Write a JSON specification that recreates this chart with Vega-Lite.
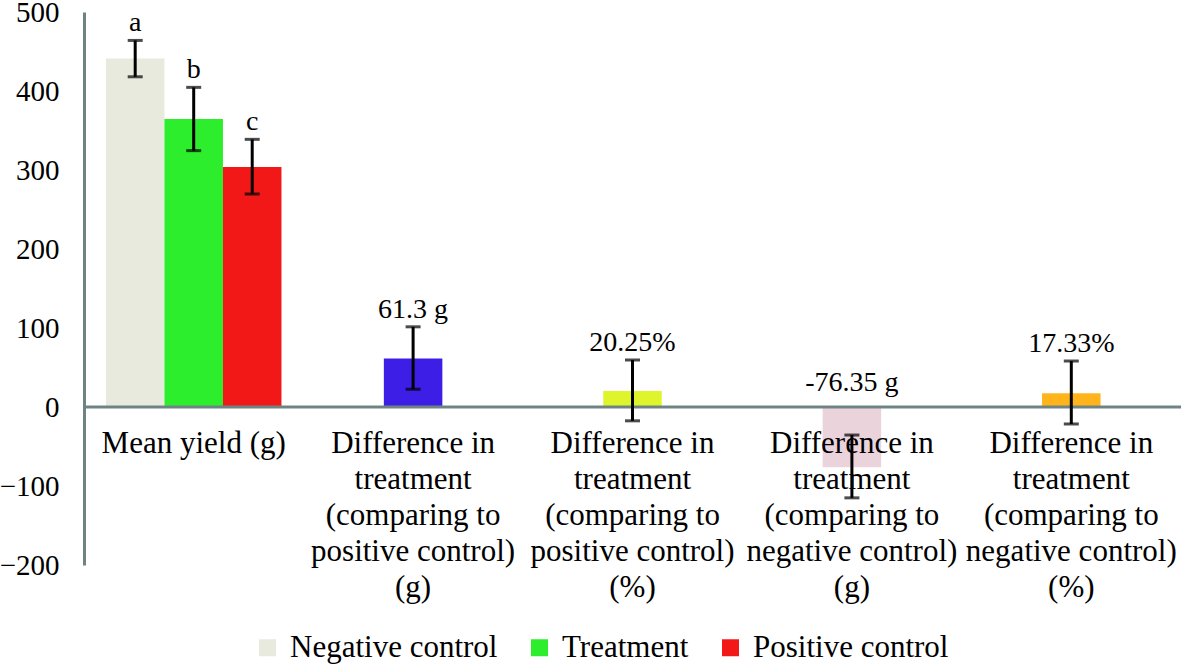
{
  "$schema": "https://vega.github.io/schema/vega-lite/v6.json",
  "width": 1097,
  "height": 553,
  "autosize": {"type": "none"},
  "padding": {"left": 84, "top": 12, "right": 0, "bottom": 99},
  "background": "white",
  "config": {
    "view": {"stroke": null},
    "font": "'Liberation Serif', 'Times New Roman', Times, serif",
    "text": {"font": "'Liberation Serif', 'Times New Roman', Times, serif", "color": "black"}
  },
  "datasets": {
    "bars": [
      {"group": "Mean yield (g)", "slot": 1, "series": "Negative control", "value": 441, "lo": 418, "hi": 464, "label": "a"},
      {"group": "Mean yield (g)", "slot": 2, "series": "Treatment", "value": 364.6, "lo": 324.5, "hi": 404.6, "label": "b"},
      {"group": "Mean yield (g)", "slot": 3, "series": "Positive control", "value": 303.8, "lo": 269.6, "hi": 338.8, "label": "c"},
      {"group": "diffPosG", "slot": 2, "series": "Diff pos g", "value": 61.3, "lo": 22.5, "hi": 101.5, "label": "61.3 g"},
      {"group": "diffPosPct", "slot": 2, "series": "Diff pos %", "value": 20.25, "lo": -17.5, "hi": 59.5, "label": "20.25%"},
      {"group": "diffNegG", "slot": 2, "series": "Diff neg g", "value": -76.35, "lo": -115, "hi": -35.5, "label": "-76.35 g"},
      {"group": "diffNegPct", "slot": 2, "series": "Diff neg %", "value": 17.33, "lo": -21.5, "hi": 58.2, "label": "17.33%"}
    ],
    "cats": [
      {"group": "Mean yield (g)", "text": "Mean yield (g)"},
      {"group": "diffPosG", "text": "Difference in|treatment|(comparing to|positive control)|(g)"},
      {"group": "diffPosPct", "text": "Difference in|treatment|(comparing to|positive control)|(%)"},
      {"group": "diffNegG", "text": "Difference in|treatment|(comparing to|negative control)|(g)"},
      {"group": "diffNegPct", "text": "Difference in|treatment|(comparing to|negative control)|(%)"}
    ]
  },
  "encoding": {
    "x": {
      "field": "group",
      "type": "nominal",
      "sort": ["Mean yield (g)", "diffPosG", "diffPosPct", "diffNegG", "diffNegPct"],
      "scale": {"paddingInner": 0.2, "paddingOuter": 0.1},
      "axis": null
    }
  },
  "layer": [
    {
      "data": {"name": "bars"},
      "mark": {"type": "bar"},
      "encoding": {
        "xOffset": {"field": "slot", "type": "ordinal", "scale": {"domain": [1, 2, 3], "paddingInner": 0, "paddingOuter": 0}},
        "y": {
          "field": "value",
          "type": "quantitative",
          "scale": {"domain": [-200, 500], "nice": false, "zero": false},
          "axis": {
            "title": null,
            "values": [-200, -100, 0, 100, 200, 300, 400, 500],
            "grid": false,
            "ticks": false,
            "domainColor": "#6F8383",
            "domainWidth": 3,
            "labelFont": "'Liberation Serif', 'Times New Roman', Times, serif",
            "labelFontSize": 29,
            "labelColor": "black",
            "labelPadding": 25
          }
        },
        "color": {
          "field": "series",
          "type": "nominal",
          "scale": {
            "domain": ["Negative control", "Treatment", "Positive control", "Diff pos g", "Diff pos %", "Diff neg g", "Diff neg %"],
            "range": ["#E8EADE", "#2CEE2C", "#F21818", "#3C1EE6", "#DEF52C", "#EBD3DC", "#FFB41C"]
          },
          "legend": {
            "values": ["Negative control", "Treatment", "Positive control"],
            "title": null,
            "orient": "none",
            "direction": "horizontal",
            "legendX": 168,
            "legendY": 620,
            "padding": 0,
            "symbolType": "square",
            "symbolSize": 289,
            "symbolStrokeWidth": 0,
            "labelFont": "'Liberation Serif', 'Times New Roman', Times, serif",
            "labelFontSize": 31,
            "labelColor": "black",
            "labelOffset": 7,
            "columnPadding": 26,
            "labelLimit": 0
          }
        }
      }
    },
    {
      "data": {"values": [{}]},
      "mark": {"type": "rule", "color": "#6F8383", "strokeWidth": 3},
      "encoding": {"y": {"datum": 0, "type": "quantitative"}, "x": {"value": 0}, "x2": {"value": 1097}}
    },
    {
      "data": {"name": "bars"},
      "mark": {"type": "rule", "color": "black", "strokeWidth": 3},
      "encoding": {
        "xOffset": {"field": "slot", "type": "ordinal"},
        "y": {"field": "lo", "type": "quantitative"},
        "y2": {"field": "hi"}
      }
    },
    {
      "data": {"name": "bars"},
      "mark": {"type": "tick", "color": "black", "thickness": 3, "size": 15, "orient": "horizontal"},
      "encoding": {
        "xOffset": {"field": "slot", "type": "ordinal"},
        "y": {"field": "lo", "type": "quantitative"}
      }
    },
    {
      "data": {"name": "bars"},
      "mark": {"type": "tick", "color": "black", "thickness": 3, "size": 15, "orient": "horizontal"},
      "encoding": {
        "xOffset": {"field": "slot", "type": "ordinal"},
        "y": {"field": "hi", "type": "quantitative"}
      }
    },
    {
      "data": {"name": "bars"},
      "transform": [{"calculate": "max(datum.hi, 9)", "as": "labelY"}],
      "mark": {"type": "text", "fontSize": 28, "baseline": "alphabetic", "dy": -9, "align": "center"},
      "encoding": {
        "xOffset": {"field": "slot", "type": "ordinal"},
        "y": {"field": "labelY", "type": "quantitative"},
        "text": {"field": "label"}
      }
    },
    {
      "data": {"name": "cats"},
      "mark": {"type": "text", "fontSize": 31, "baseline": "alphabetic", "dy": 46, "lineHeight": 36, "lineBreak": "|", "align": "center"},
      "encoding": {
        "y": {"datum": 0, "type": "quantitative"},
        "text": {"field": "text"}
      }
    }
  ]
}
